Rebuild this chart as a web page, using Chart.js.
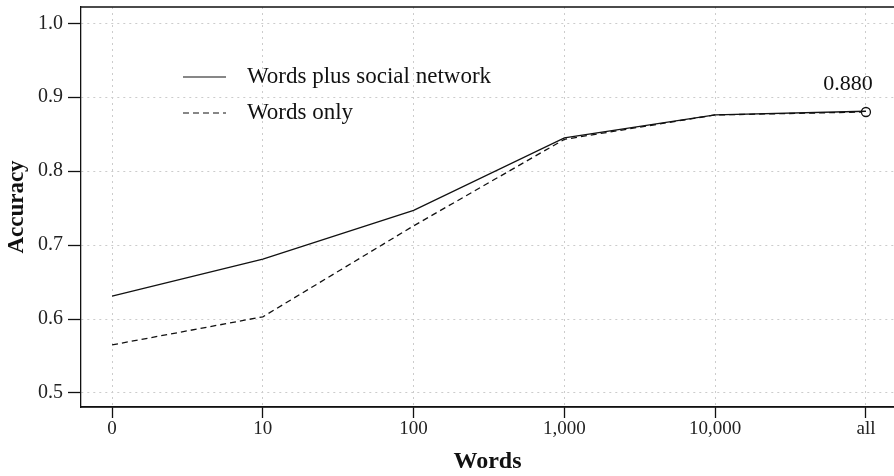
<!DOCTYPE html>
<html>
<head>
<meta charset="utf-8">
<script src="https://cdn.jsdelivr.net/npm/chart.js@4"></script>
<style>
  html, body { margin: 0; padding: 0; background: #fff; }
  #wrap { width: 894px; height: 476px; }
</style>
</head>
<body>
<div id="wrap"><canvas id="chartLine" width="894" height="476"></canvas></div>
<script>
// categories on the x axis
var categories = ['0', '10', '100', '1,000', '10,000', 'all'];
// accuracy values
var wordsSocial = [0.631, 0.681, 0.747, 0.845, 0.876, 0.881];
var wordsOnly = [0.565, 0.603, 0.726, 0.843, 0.876, 0.880];
var yTicks = [0.5, 0.6, 0.7, 0.8, 0.9, 1.0];
var noteText = '0.880';

var serif = '"Liberation Serif", "Times New Roman", serif';

function toPoints(arr) {
    return arr.map(function (v, i) { return { x: i, y: v }; });
}

// legend inside the plot, value note, frame lines running to the right edge
var extras = {
    id: 'extras',
    afterDatasetsDraw: function (chart) {
        var ctx = chart.ctx;
        var a = chart.chartArea;
        var xs = chart.scales.x, ys = chart.scales.y;
        ctx.save();
        // top and bottom frame lines (right side is cut off in the original)
        ctx.strokeStyle = '#111';
        ctx.lineWidth = 1.3;
        ctx.beginPath();
        ctx.moveTo(a.left, a.top);
        ctx.lineTo(chart.width, a.top);
        ctx.moveTo(a.left, a.bottom);
        ctx.lineTo(chart.width, a.bottom);
        ctx.stroke();

        // legend
        ctx.font = '23px ' + serif;
        ctx.fillStyle = '#111';
        ctx.textBaseline = 'middle';
        ctx.textAlign = 'left';
        var rows = [
            { label: 'Words plus social network', dash: [], y: 77 },
            { label: 'Words only', dash: [6, 4], y: 113 }
        ];
        rows.forEach(function (r) {
            ctx.beginPath();
            ctx.setLineDash(r.dash);
            ctx.lineWidth = 1.2;
            ctx.strokeStyle = '#111';
            ctx.moveTo(183, r.y);
            ctx.lineTo(226, r.y);
            ctx.stroke();
            ctx.setLineDash([]);
            ctx.fillText(r.label, 247, r.y);
        });

        // note above the last point
        var last = wordsOnly.length - 1;
        var px = xs.getPixelForValue(last);
        var py = ys.getPixelForValue(wordsOnly[last]);
        ctx.font = '22px ' + serif;
        ctx.textAlign = 'center';
        ctx.textBaseline = 'alphabetic';
        ctx.fillText(noteText, px - 18, py - 22);
        ctx.restore();
    }
};

var ourLine = document.getElementById('chartLine');

var gridOpts = {
    color: '#cccccc',
    lineWidth: 1,
    tickColor: '#111',
    tickBorderDash: [],
    tickLength: 13,
    tickWidth: 1.3
};

var lineChart = new Chart(ourLine, {
    type: 'line',
    data: {
        datasets: [
            {
                label: 'Words plus social network',
                data: toPoints(wordsSocial),
                borderColor: '#111',
                borderWidth: 1.3,
                pointRadius: 0,
                fill: false
            },
            {
                label: 'Words only',
                data: toPoints(wordsOnly),
                borderColor: '#111',
                borderWidth: 1.3,
                borderDash: [6, 4],
                // circle only on the last point
                pointRadius: wordsOnly.map(function (v, i) { return i === wordsOnly.length - 1 ? 4.5 : 0; }),
                pointBackgroundColor: '#fff',
                pointBorderColor: '#111',
                pointBorderWidth: 1.3,
                fill: false
            }
        ]
    },
    options: {
        responsive: false,
        animation: false,
        layout: { autoPadding: false, padding: { left: 0, top: 7, right: 0, bottom: 0 } },
        plugins: {
            legend: { display: false },
            tooltip: { enabled: false }
        },
        scales: {
            x: {
                type: 'linear',
                min: -0.206,
                max: 5.186,
                afterBuildTicks: function (scale) {
                    scale.ticks = categories.map(function (c, i) { return { value: i }; });
                },
                afterFit: function (scale) {
                    scale.height = 69;
                    scale.paddingLeft = 0;
                    scale.paddingRight = 0;
                },
                ticks: {
                    color: '#222',
                    font: { family: serif, size: 19 },
                    padding: 0,
                    maxRotation: 0,
                    autoSkip: false,
                    callback: function (v) { return categories[v]; }
                },
                grid: Object.assign({}, gridOpts, { tickLength: 11 }),
                border: { display: true, color: '#111', width: 1.3, dash: [2, 4] },
                title: {
                    display: true,
                    text: 'Words',
                    color: '#111',
                    font: { family: serif, size: 24, weight: 'bold' },
                    padding: { top: 0, bottom: 0 }
                }
            },
            y: {
                min: 0.481,
                max: 1.022,
                afterBuildTicks: function (scale) {
                    scale.ticks = yTicks.map(function (v) { return { value: v }; });
                },
                afterFit: function (scale) {
                    scale.width = 81;
                    scale.paddingTop = 0;
                    scale.paddingBottom = 0;
                },
                ticks: {
                    color: '#222',
                    font: { family: serif, size: 20 },
                    padding: 5,
                    callback: function (v) { return v.toFixed(1); }
                },
                grid: gridOpts,
                border: { display: true, color: '#111', width: 1.3, dash: [2, 4] },
                title: {
                    display: true,
                    text: 'Accuracy',
                    color: '#111',
                    font: { family: serif, size: 23, weight: 'bold' },
                    padding: { top: 3, bottom: 0 }
                }
            }
        }
    },
    plugins: [extras]
});
</script>
</body>
</html>
